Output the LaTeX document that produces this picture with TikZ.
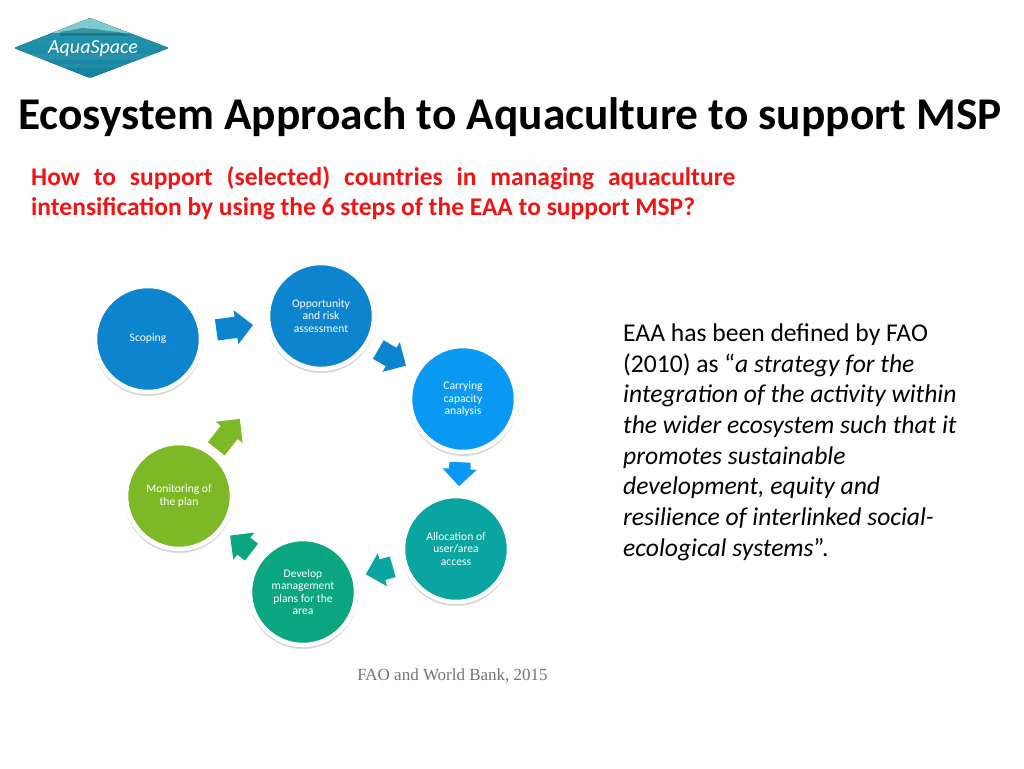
\documentclass[tikz,border=0pt]{standalone}
\usepackage{fontspec}
\setmainfont{Carlito}
\newfontfamily\footfont{Liberation Serif}
\usetikzlibrary{arrows,positioning,shapes.arrows,shadows}
\definecolor{scopeblue}{HTML}{0C84CE}
\definecolor{carryblue}{HTML}{0A99F2}
\definecolor{alloteal}{HTML}{0AA5A0}
\definecolor{devgreen}{HTML}{0AA67F}
\definecolor{monigreen}{HTML}{7DB927}
\definecolor{redhead}{HTML}{F01414}
\definecolor{logodark}{HTML}{0F7F9C}
\definecolor{logomid}{HTML}{2C9DB5}
\definecolor{logolight}{HTML}{7CCBCF}
\begin{document}
\begin{tikzpicture}[x=1pt,y=-1pt,node distance=100pt,on grid,
  stage/.style={circle,draw=white,line width=4.5pt,minimum size=106pt,inner sep=0pt,align=center,text=white,
    font=\fontsize{11.6}{12.5}\selectfont,
    drop shadow={shadow xshift=0pt,shadow yshift=-3pt,shadow scale=1.02,opacity=.12,fill=black},
    drop shadow={shadow xshift=0pt,shadow yshift=-1pt,shadow scale=1.045,opacity=.07,fill=black}},
  flow/.style={single arrow,single arrow head extend=6.5pt,inner xsep=0pt,inner ysep=10.5pt,sloped,allow upside down,draw=none,
    minimum height=#1,anchor=tail,xshift=-#1*0.5}]
  \useasboundingbox (0,0) rectangle (1024,768);
  % logo
  \begin{scope}
    \clip[rounded corners=2pt] (14,48) -- (90,18) -- (169,48) -- (90,78) -- cycle;
    \fill[top color=logomid,bottom color=logodark] (0,15) rectangle (180,80);
    \fill[logolight] (50,33) -- (90,15) -- (135,33) -- cycle;
    \fill[logodark!80!black,opacity=.55] (60,32) -- (72,30) -- (82,28) -- (95,29) -- (108,31) -- (118,32) -- (132,36) -- (60,36) -- cycle;
    \fill[white,opacity=.06] (0,54) rectangle (180,60);
    \fill[white,opacity=.06] (0,64) rectangle (180,68);
  \end{scope}
  \node[text=white,font=\itshape\fontsize{20}{20}\selectfont] (logotext) at (93,49) {AquaSpace};
  % headings
  \node[anchor=west,inner sep=0pt,font=\bfseries\fontsize{45.4}{48}\selectfont] (title) at (18,117) {Ecosystem Approach to Aquaculture to support MSP};
  \node[anchor=north west,inner sep=0pt,text width=704pt,align=justify,text=redhead,font=\bfseries\fontsize{25.5}{30}\selectfont] (question) at (31,166)
    {How to support (selected) countries in managing aquaculture\linebreak intensification by using the 6 steps of the EAA to support MSP?};
  % stages
  \node[stage,fill=scopeblue] (scoping) at (148,339) {Scoping};
  \node[stage,fill=scopeblue] (risk) [above right=23pt and 173pt of scoping] {Opportunity\\and risk\\assessment};
  \node[stage,fill=carryblue] (carrying) [below right=83pt and 142pt of risk] {Carrying\\capacity\\analysis};
  \node[stage,fill=alloteal] (allocation) [below left=150pt and 7pt of carrying] {Allocation of\\user/area\\access};
  \node[stage,fill=devgreen] (develop) [below left=43pt and 153pt of allocation] {Develop\\management\\plans for the\\area};
  \node[stage,fill=monigreen] (monitoring) [above left=96pt and 124pt of develop] {Monitoring of\\the plan};
  % arrows between the stages
  \path (scoping) -- node[flow=37pt,fill=scopeblue] (arrowa) {} (risk);
  \path (risk) -- node[flow=32pt,fill=scopeblue] (arrowb) {} (carrying);
  \path (carrying) -- node[flow=24pt,fill=carryblue] (arrowc) {} (allocation);
  \path (allocation) -- node[flow=28pt,fill=alloteal] (arrowd) {} (develop);
  \path (develop) -- node[flow=27pt,fill=devgreen] (arrowe) {} (monitoring);
  \path (monitoring) -- node[flow=38pt,fill=monigreen,pos=.2] (arrowf) {} (risk);
  % side text
  \node[anchor=north west,inner sep=0pt,align=left,font=\fontsize{25.6}{30.7}\selectfont] (definition) at (623,323.5)
    {EAA has been defined by FAO\\(2010) as “\textit{a strategy for the}\\\textit{integration of the activity within}\\\textit{the wider ecosystem such that it}\\\textit{promotes sustainable}\\\textit{development, equity and}\\\textit{resilience of interlinked social-}\\\textit{ecological systems}”.};
  \node[text=black!55,font=\footfont\fontsize{17}{18}\selectfont] (source) at (452.5,676) {FAO and World Bank, 2015};
\end{tikzpicture}
\end{document}
